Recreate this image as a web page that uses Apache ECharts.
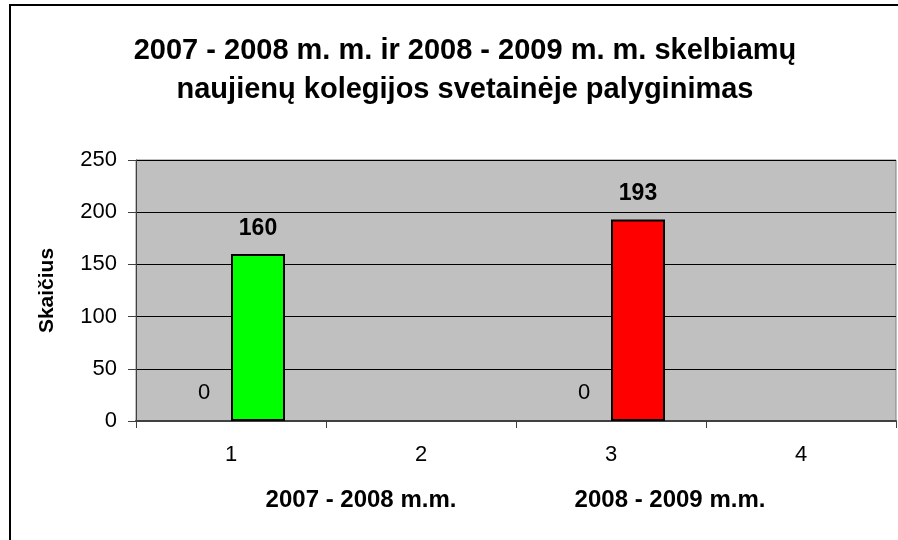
<!DOCTYPE html>
<html>
<head>
<meta charset="utf-8">
<script src="https://cdn.jsdelivr.net/npm/echarts@6/dist/echarts.min.js"></script>
<style>
  html, body { margin: 0; padding: 0; background: #fff; }
  #chart { width: 898px; height: 540px; }
</style>
</head>
<body>
<div id="chart"></div>
<script>
// Chart data
const categories = ['1', '2', '3', '4'];
const zeroSeries = [0, null, 0, null];
const newsSeries = [160, null, 193, null];
const newsColors = ['#00FF00', null, '#FF0000', null];
const periodLabels = ['2007 - 2008 m.m.', '2008 - 2009 m.m.'];
const titleText = '2007 - 2008 m. m. ir 2008 - 2009 m. m. skelbiamų\nnaujienų kolegijos svetainėje palyginimas';
const yAxisName = 'Skaičius';

const FONT = '"Liberation Sans", Arial, sans-serif';
const chart = echarts.init(document.getElementById('chart'));

chart.setOption({
  animation: false,
  backgroundColor: '#ffffff',
  title: {
    text: titleText,
    left: 460,
    textAlign: 'center',
    top: 26,
    textStyle: { fontFamily: FONT, fontSize: 29, fontWeight: 'bold', color: '#000', lineHeight: 39 }
  },
  grid: {
    left: 136, top: 160, right: 2, bottom: 119,
    show: true, backgroundColor: '#C0C0C0', borderColor: '#808080', borderWidth: 1
  },
  xAxis: {
    type: 'category',
    data: categories,
    boundaryGap: true,
    axisLine: { lineStyle: { color: '#404040', width: 2 } },
    axisTick: { show: true, length: 7, lineStyle: { color: '#404040' } },
    axisLabel: { fontFamily: FONT, fontSize: 22, color: '#000', margin: 23 }
  },
  yAxis: {
    type: 'value',
    min: 0, max: 250, interval: 50,
    name: yAxisName,
    nameLocation: 'middle',
    nameGap: 78,
    nameRotate: 90,
    nameTextStyle: { fontFamily: FONT, fontSize: 21, fontWeight: 'bold', color: '#000' },
    axisLine: { show: true, lineStyle: { color: '#404040', width: 1 } },
    axisTick: { show: true, length: 8, lineStyle: { color: '#404040' } },
    axisLabel: { fontFamily: FONT, fontSize: 22, color: '#000', margin: 19 },
    splitLine: { lineStyle: { color: '#000', width: 1 } }
  },
  series: [
    {
      type: 'bar',
      data: zeroSeries,
      barWidth: 54,
      barGap: '0%',
      itemStyle: { color: '#9999FF', borderWidth: 0 },
      label: { show: true, position: 'top', distance: 17, fontFamily: FONT, fontSize: 22, color: '#000' }
    },
    {
      type: 'bar',
      data: newsSeries.map((v, i) => v == null ? null : { value: v, itemStyle: { color: newsColors[i] } }),
      barWidth: 54,
      barGap: '0%',
      itemStyle: { borderColor: '#000', borderWidth: 2 },
      label: { show: true, position: 'top', distance: 14, fontFamily: FONT, fontSize: 23, fontWeight: 'bold', color: '#000' }
    }
  ],
  graphic: [
    {
      type: 'rect', silent: true, z: 100,
      shape: { x: 10, y: 5, width: 900, height: 545 },
      style: { fill: 'none', stroke: '#000', lineWidth: 2 }
    },
    {
      type: 'text', x: 361, y: 500, z: 100,
      style: { text: periodLabels[0], textAlign: 'center', textVerticalAlign: 'middle', font: 'bold 24px ' + FONT, fill: '#000' }
    },
    {
      type: 'text', x: 670, y: 500, z: 100,
      style: { text: periodLabels[1], textAlign: 'center', textVerticalAlign: 'middle', font: 'bold 24px ' + FONT, fill: '#000' }
    }
  ]
});
</script>
</body>
</html>
